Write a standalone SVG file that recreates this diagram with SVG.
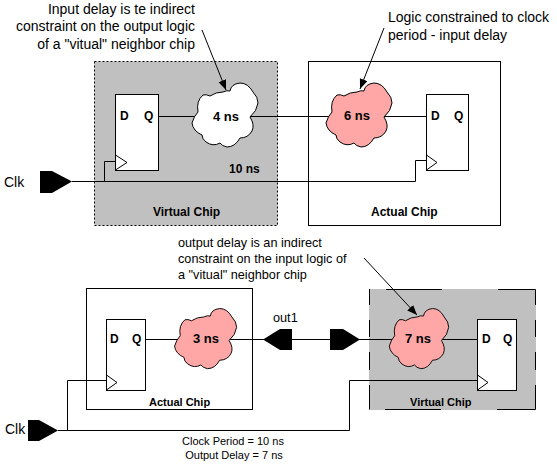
<svg xmlns="http://www.w3.org/2000/svg" width="557" height="465" viewBox="0 0 557 465">
<style>
text{font-family:"Liberation Sans",Arial,sans-serif;fill:#000}
.a{font-size:14px}
.o{font-size:12.7px}
.s{font-size:11px;text-anchor:middle}
.b{font-size:12px;font-weight:bold}
.c{font-size:11px;font-weight:bold}
.p{font-size:12px;font-weight:bold}
.n{font-size:13px;font-weight:bold}
.w{fill:none;stroke:#000;stroke-width:1}
.box{fill:#fff;stroke:#000;stroke-width:1}
.v1{fill:#c0c0c0;stroke:#000;stroke-width:1;stroke-dasharray:2 2}
.pin{fill:#000}
</style>
<defs>
<marker id="h" markerUnits="userSpaceOnUse" markerWidth="12" markerHeight="10" refX="10" refY="4" orient="auto"><path d="M0 0L10 4L0 8Z" fill="#000"/></marker>
<path id="c" d="M45 16Q46 9 55 8Q63 8 68 17Q73 22 73 28Q72 36 65 42Q70 50 67 56Q63 63 55 63Q50 72 42 72Q37 71 35 68Q28 72 21 67Q17 64 17 60Q8 56 7 48Q9 41 13 37Q11 26 18 20Q21 19 25 21Q31 17 38 17Q42 15 45 16Z"/>
</defs>
<g id="chip-virtual-top"><rect class="v1" x="94.500" y="61.500" width="183" height="164"/><text class="b" x="153" y="216">Virtual Chip</text></g>
<g id="chip-actual-top"><rect class="box" x="308.500" y="61.500" width="192" height="164"/><text class="b" x="371" y="216">Actual Chip</text></g>
<g id="chip-actual-bottom"><rect class="box" x="86.500" y="288.500" width="166" height="121"/><text class="c" x="149" y="406">Actual Chip</text></g>
<g id="chip-virtual-bottom"><rect x="369" y="289" width="167" height="121" fill="#c0c0c0"/><path class="w" d="M386 289.500H442M498 289.500H535.500V305M535.500 320V337M535.500 352V370M535.500 385V409.500H497M441 409.500H385M369.500 409.500V385M369.500 370V352M369.500 337V320M369.500 305V289"/><text class="c" x="410" y="406">Virtual Chip</text></g>
<g id="connectors">
<path class="w" d="M158 116.500H426"/>
<path class="w" d="M72 181.500H415.500V160.500H426"/>
<path class="w" d="M104.500 181V161.500H115"/>
<path class="w" d="M145 339.500H477"/>
<path class="w" d="M58 430.500H349.500V380.500H478"/>
<path class="w" d="M67.500 430V380.500H106"/>
<path class="w" d="M202 30L226 90" marker-end="url(#h)"/>
<path class="w" d="M384 28L360 89" marker-end="url(#h)"/>
<path class="w" d="M364 258L417 315" marker-end="url(#h)"/>
</g>
<g id="ff1"><rect class="box" x="115.500" y="94.500" width="43" height="76"/><path class="box" d="M115.500 155L127 162.500L115.500 170Z"/><text class="p" x="120" y="120">D</text><text class="p" x="144" y="120">Q</text></g>
<g id="ff2"><rect class="box" x="426.500" y="94.500" width="42" height="76"/><path class="box" d="M426.500 155L437 162.500L426.500 170Z"/><text class="p" x="431" y="120">D</text><text class="p" x="454" y="120">Q</text></g>
<g id="ff3"><rect class="box" x="106.500" y="319.500" width="39" height="71"/><path class="box" d="M106.500 375L117 382.500L106.500 390Z"/><text class="p" x="110" y="343">D</text><text class="p" x="132" y="343">Q</text></g>
<g id="ff4"><rect class="box" x="477.500" y="319.500" width="39" height="71"/><path class="box" d="M477.500 375L488 382.500L477.500 390Z"/><text class="p" x="482" y="343">D</text><text class="p" x="503" y="343">Q</text></g>
<g id="cloud-4ns"><use href="#c" transform="translate(185 75)" fill="#fff" stroke="#000"/><text class="n" x="213" y="121">4 ns</text></g>
<g id="cloud-6ns"><use href="#c" transform="translate(319 75)" fill="#ffa6a6" stroke="#000"/><text class="n" x="344" y="120">6 ns</text></g>
<g id="cloud-3ns"><use href="#c" transform="translate(168 301) scale(.94 .94)" fill="#ffa6a6" stroke="#000"/><text class="n" x="193" y="343">3 ns</text></g>
<g id="cloud-7ns"><use href="#c" transform="translate(383 301) scale(.9 .94)" fill="#ffa6a6" stroke="#000"/><text class="n" x="405" y="343">7 ns</text></g>
<g id="port-clk-top"><path class="pin" d="M40 171H52L72 181.500L52 193H40Z"/><text class="a" x="4" y="187">Clk</text></g>
<g id="port-clk-bottom"><path class="pin" d="M28 420H39L58 430.500L39 441H28Z"/><text class="a" x="5" y="434">Clk</text></g>
<g id="port-out1"><path class="pin" d="M263 339.500L280 329H292V350H280Z"/><text class="o" x="273" y="322">out1</text></g>
<g id="port-in"><path class="pin" d="M330 329H343L360 339.500L343 350H330Z"/></g>
<g id="labels">
<text class="a" x="195" y="14" text-anchor="end">Input delay is te indirect</text>
<text class="a" x="195" y="31" text-anchor="end">constraint on the output logic</text>
<text class="a" x="195" y="49" text-anchor="end">of a "vitual" neighbor chip</text>
<text class="a" x="388" y="22">Logic constrained to clock</text>
<text class="a" x="388" y="40">period - input delay</text>
<text class="b" x="229" y="173">10 ns</text>
<text class="o" x="178" y="247">output delay is an indirect</text>
<text class="o" x="178" y="263">constraint on the input logic of</text>
<text class="o" x="178" y="279">a "vitual" neighbor chip</text>
<text class="s" x="233" y="445">Clock Period = 10 ns</text>
<text class="s" x="234" y="459">Output Delay = 7 ns</text>
</g>
</svg>
